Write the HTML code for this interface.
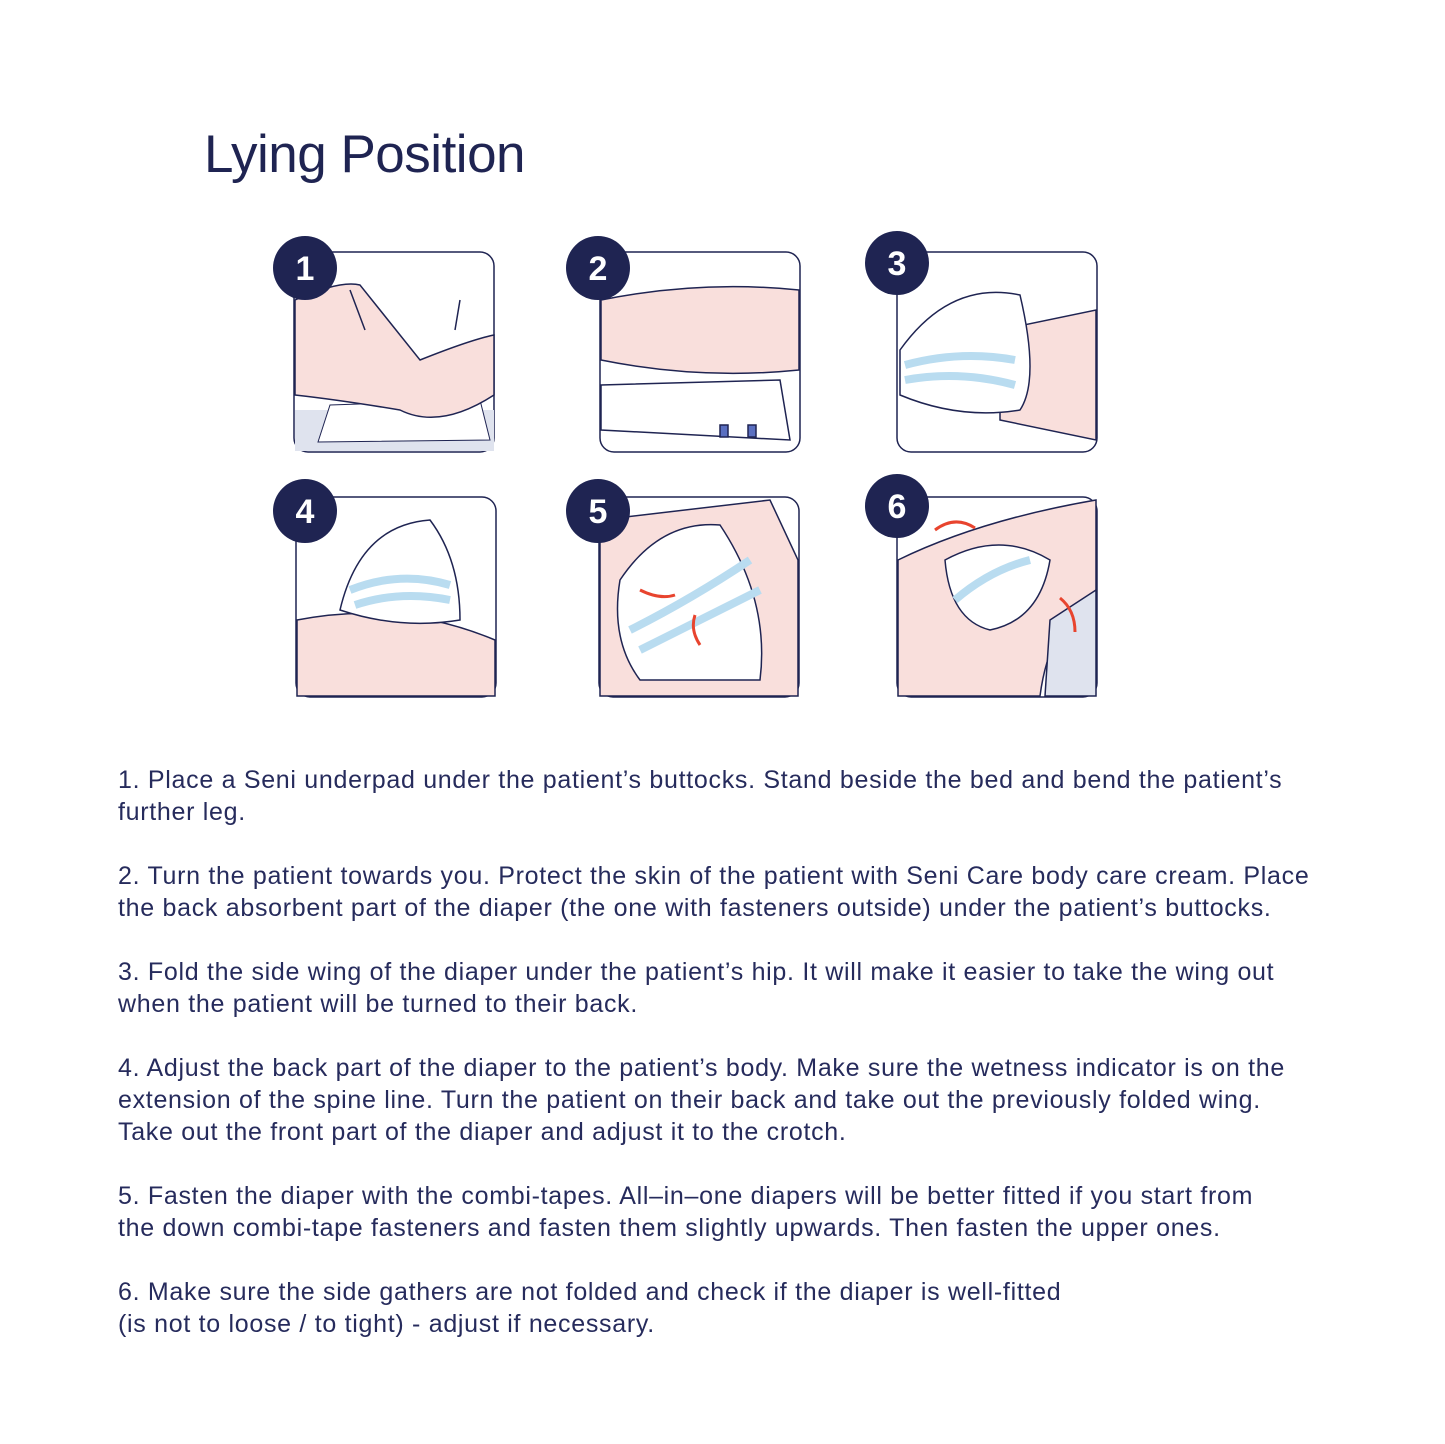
<!DOCTYPE html>
<html><head><style>
body{margin:0;width:1445px;height:1444px;background:#fff;position:relative;font-family:"Liberation Sans",sans-serif;color:#1f2452;overflow:hidden}
h1{position:absolute;left:204px;top:124px;margin:0;font-weight:normal;font-size:53px;letter-spacing:-0.5px;color:#1f2452}
.txt{position:absolute;left:118px;top:764px;width:1300px;font-size:25px;letter-spacing:0.7px;line-height:32px;color:#262b5c;white-space:nowrap}
.txt p{margin:0 0 32px 0}
svg{position:absolute;left:0;top:0}
</style></head><body>
<h1>Lying Position</h1>
<svg width="1445" height="720" viewBox="0 0 1445 720">
<g stroke="#1f2452" stroke-width="1.5">
<rect x="294" y="252" width="200" height="200" rx="14" fill="#fff"/>
<path d="M295 410 L494 410 L494 451 L295 451Z" fill="#dfe3ee" stroke="none"/>
<path d="M318 442 L330 405 L480 400 L490 440Z" fill="#fff" stroke-width="1"/>
<path d="M295 300 Q340 280 360 285 L420 360 Q470 340 494 335 L494 395 Q440 430 400 410 Q340 400 295 395Z" fill="#f9dfdc"/>
<path d="M350 290 L365 330 M460 300 L455 330" fill="none"/>
<rect x="600" y="252" width="200" height="200" rx="14" fill="#fff"/>
<path d="M601 300 Q700 280 799 290 L799 370 Q700 380 601 360Z" fill="#f9dfdc"/>
<path d="M601 385 L780 380 L790 440 L601 430Z" fill="#fff"/>
<rect x="720" y="425" width="8" height="12" fill="#5a6fc0"/><rect x="748" y="425" width="8" height="12" fill="#5a6fc0"/>
<rect x="897" y="252" width="200" height="200" rx="14" fill="#fff"/>
<path d="M1000 330 L1096 310 L1096 440 L1000 420Z" fill="#f9dfdc"/>
<path d="M900 350 Q950 280 1020 295 Q1040 380 1020 410 Q960 420 900 395Z" fill="#fff"/>
<path d="M905 365 Q960 350 1015 360 M905 380 Q960 370 1015 385" stroke="#b9dcf0" stroke-width="8" fill="none"/>
<rect x="296" y="497" width="200" height="200" rx="14" fill="#fff"/>
<path d="M297 620 Q400 600 495 640 L495 696 L297 696Z" fill="#f9dfdc"/>
<path d="M340 610 Q360 525 430 520 Q460 560 460 620 Q400 630 340 610Z" fill="#fff"/>
<path d="M350 590 Q400 570 450 585 M355 605 Q400 590 450 600" stroke="#b9dcf0" stroke-width="8" fill="none"/>
<rect x="599" y="497" width="200" height="200" rx="14" fill="#fff"/>
<path d="M600 520 L770 500 L798 560 L798 696 L600 696Z" fill="#f9dfdc"/>
<path d="M620 580 Q660 520 720 525 Q770 600 760 680 L640 680 Q610 640 620 580Z" fill="#fff"/>
<path d="M630 630 Q690 600 750 560 M640 650 Q700 620 760 590" stroke="#b9dcf0" stroke-width="8" fill="none"/>
<path d="M640 590 Q660 600 675 595 M700 645 Q690 630 695 615" stroke="#e8442e" stroke-width="3" fill="none"/>
<rect x="897" y="497" width="200" height="200" rx="14" fill="#fff"/>
<path d="M898 560 Q980 520 1096 500 L1096 600 Q1050 620 1040 696 L898 696Z" fill="#f9dfdc"/>
<path d="M1050 620 L1096 590 L1096 696 L1045 696Z" fill="#dfe3ee"/>
<path d="M945 560 Q1000 530 1050 560 Q1040 620 990 630 Q950 620 945 560Z" fill="#fff"/>
<path d="M955 600 Q990 570 1030 560" stroke="#b9dcf0" stroke-width="8" fill="none"/>
<path d="M935 530 Q955 515 975 528 M1075 632 Q1075 610 1060 598" stroke="#e8442e" stroke-width="3" fill="none"/>
</g>
<g fill="#1f2452" font-family="Liberation Sans" font-weight="bold" font-size="34" text-anchor="middle">
<circle cx="305" cy="268" r="32"/><circle cx="598" cy="268" r="32"/><circle cx="897" cy="263" r="32"/>
<circle cx="305" cy="511" r="32"/><circle cx="598" cy="511" r="32"/><circle cx="897" cy="506" r="32"/>
<g fill="#fff"><text x="305" y="280">1</text><text x="598" y="280">2</text><text x="897" y="275">3</text>
<text x="305" y="523">4</text><text x="598" y="523">5</text><text x="897" y="518">6</text></g>
</g>
</svg>
<div class="txt">
<p>1. Place a Seni underpad under the patient’s buttocks. Stand beside the bed and bend the patient’s<br>further leg.</p>
<p>2. Turn the patient towards you. Protect the skin of the patient with Seni Care body care cream. Place<br>the back absorbent part of the diaper (the one with fasteners outside) under the patient’s buttocks.</p>
<p>3. Fold the side wing of the diaper under the patient’s hip. It will make it easier to take the wing out<br>when the patient will be turned to their back.</p>
<p>4. Adjust the back part of the diaper to the patient’s body. Make sure the wetness indicator is on the<br>extension of the spine line. Turn the patient on their back and take out the previously folded wing.<br>Take out the front part of the diaper and adjust it to the crotch.</p>
<p>5. Fasten the diaper with the combi-tapes. All–in–one diapers will be better fitted if you start from<br>the down combi-tape fasteners and fasten them slightly upwards. Then fasten the upper ones.</p>
<p>6. Make sure the side gathers are not folded and check if the diaper is well-fitted<br>(is not to loose / to tight) - adjust if necessary.</p>
</div>
</body></html>
